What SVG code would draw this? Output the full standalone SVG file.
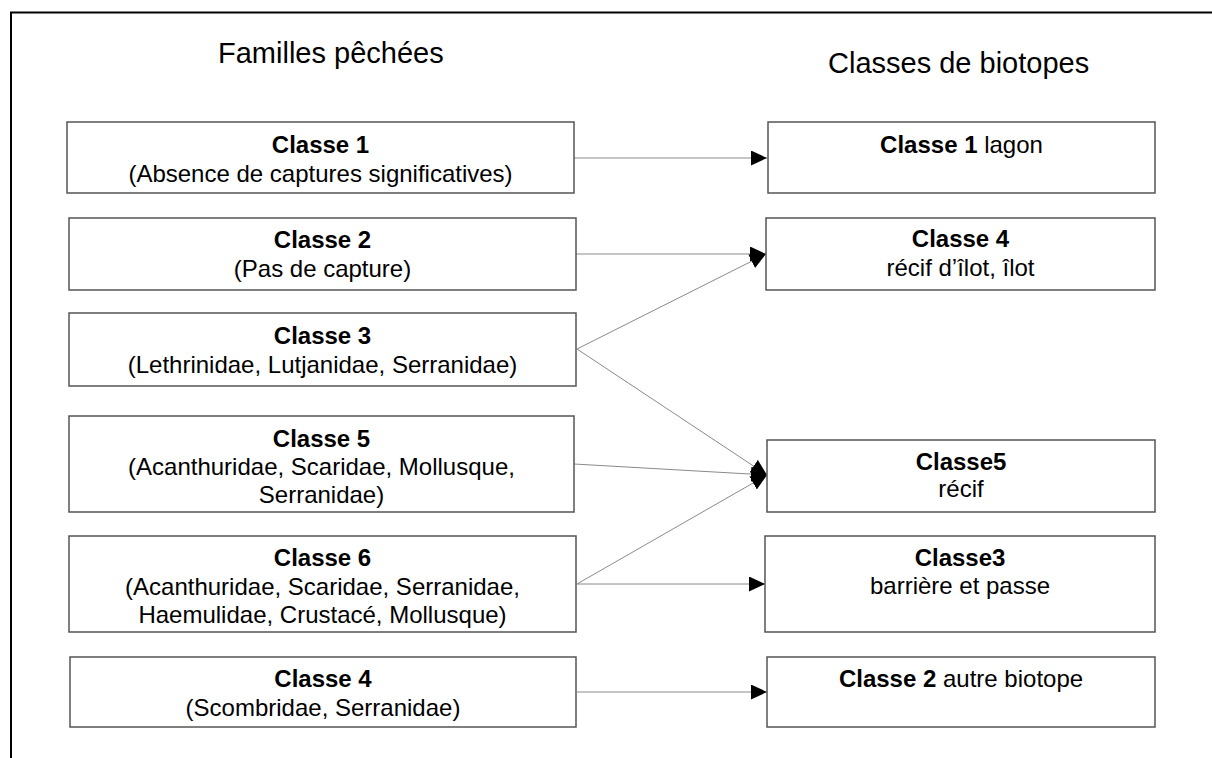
<svg xmlns="http://www.w3.org/2000/svg" width="1212" height="758" viewBox="0 0 1212 758">
<style>
  .frame { fill: none; stroke: #000; stroke-width: 2; }
  .box { fill: #fff; stroke: #555; stroke-width: 1.5; }
  .t { font-family: "Liberation Sans", Arial, sans-serif; font-size: 24px; fill: #000; text-anchor: middle; }
  .b { font-weight: bold; }
  .title { font-family: "Liberation Sans", Arial, sans-serif; font-size: 29px; fill: #000; }
  .conn { fill: none; stroke: #8a8a8a; stroke-width: 1; }
</style>
<defs>
  <marker id="arr" markerUnits="userSpaceOnUse" markerWidth="17" markerHeight="15" refX="16" refY="7.5" orient="auto" viewBox="0 0 17 15">
    <path d="M0,0 L16,7.5 L0,15 Z" fill="#000"/>
  </marker>
</defs>
<rect width="1212" height="758" fill="#fff"/>
<path class="frame" d="M11,758 L11,12.5 L1212,12.5"/>
<text class="title" x="218" y="63">Familles pêchées</text>
<text class="title" x="828" y="73">Classes de biotopes</text>

<g id="connectors">
  <line class="conn" x1="574" y1="158" x2="767" y2="158" marker-end="url(#arr)"/>
  <line class="conn" x1="576" y1="254" x2="766" y2="254" marker-end="url(#arr)"/>
  <line class="conn" x1="577" y1="349" x2="766" y2="254" marker-end="url(#arr)"/>
  <line class="conn" x1="577" y1="349" x2="767" y2="475" marker-end="url(#arr)"/>
  <line class="conn" x1="574" y1="464" x2="767" y2="475" marker-end="url(#arr)"/>
  <line class="conn" x1="577" y1="584" x2="767" y2="475" marker-end="url(#arr)"/>
  <line class="conn" x1="577" y1="584" x2="765" y2="584" marker-end="url(#arr)"/>
  <line class="conn" x1="577" y1="692" x2="767" y2="692" marker-end="url(#arr)"/>
</g>

<g id="fam-classe1">
  <rect class="box" x="67" y="122" width="507" height="71"/>
  <text class="t b" x="320.5" y="153">Classe 1</text>
  <text class="t" x="320.5" y="182">(Absence de captures significatives)</text>
</g>
<g id="fam-classe2">
  <rect class="box" x="69" y="218" width="507" height="72"/>
  <text class="t b" x="322.5" y="248">Classe 2</text>
  <text class="t" x="322.5" y="277">(Pas de capture)</text>
</g>
<g id="fam-classe3">
  <rect class="box" x="69" y="313" width="507" height="73"/>
  <text class="t b" x="322.5" y="344">Classe 3</text>
  <text class="t" x="322.5" y="373">(Lethrinidae, Lutjanidae, Serranidae)</text>
</g>
<g id="fam-classe5">
  <rect class="box" x="69" y="416" width="505" height="96"/>
  <text class="t b" x="321.5" y="447">Classe 5</text>
  <text class="t" x="321.5" y="475">(Acanthuridae, Scaridae, Mollusque,</text>
  <text class="t" x="321.5" y="503">Serranidae)</text>
</g>
<g id="fam-classe6">
  <rect class="box" x="69" y="536" width="507" height="96"/>
  <text class="t b" x="322.5" y="566">Classe 6</text>
  <text class="t" x="322.5" y="595">(Acanthuridae, Scaridae, Serranidae,</text>
  <text class="t" x="322.5" y="623">Haemulidae, Crustacé, Mollusque)</text>
</g>
<g id="fam-classe4">
  <rect class="box" x="70" y="657" width="506" height="70"/>
  <text class="t b" x="323" y="687">Classe 4</text>
  <text class="t" x="323" y="716">(Scombridae, Serranidae)</text>
</g>

<g id="bio-classe1">
  <rect class="box" x="768" y="122" width="387" height="71"/>
  <text class="t" x="961.5" y="153"><tspan class="b">Classe 1</tspan> lagon</text>
</g>
<g id="bio-classe4">
  <rect class="box" x="766" y="218" width="389" height="72"/>
  <text class="t b" x="960.5" y="247">Classe 4</text>
  <text class="t" x="960.5" y="276">récif d’îlot, îlot</text>
</g>
<g id="bio-classe5">
  <rect class="box" x="767" y="440" width="388" height="72"/>
  <text class="t b" x="961" y="470">Classe5</text>
  <text class="t" x="961" y="497">récif</text>
</g>
<g id="bio-classe3">
  <rect class="box" x="765" y="536" width="390" height="96"/>
  <text class="t b" x="960" y="566">Classe3</text>
  <text class="t" x="960" y="594">barrière et passe</text>
</g>
<g id="bio-classe2">
  <rect class="box" x="767" y="657" width="388" height="70"/>
  <text class="t" x="961" y="687"><tspan class="b">Classe 2</tspan> autre biotope</text>
</g>
</svg>
